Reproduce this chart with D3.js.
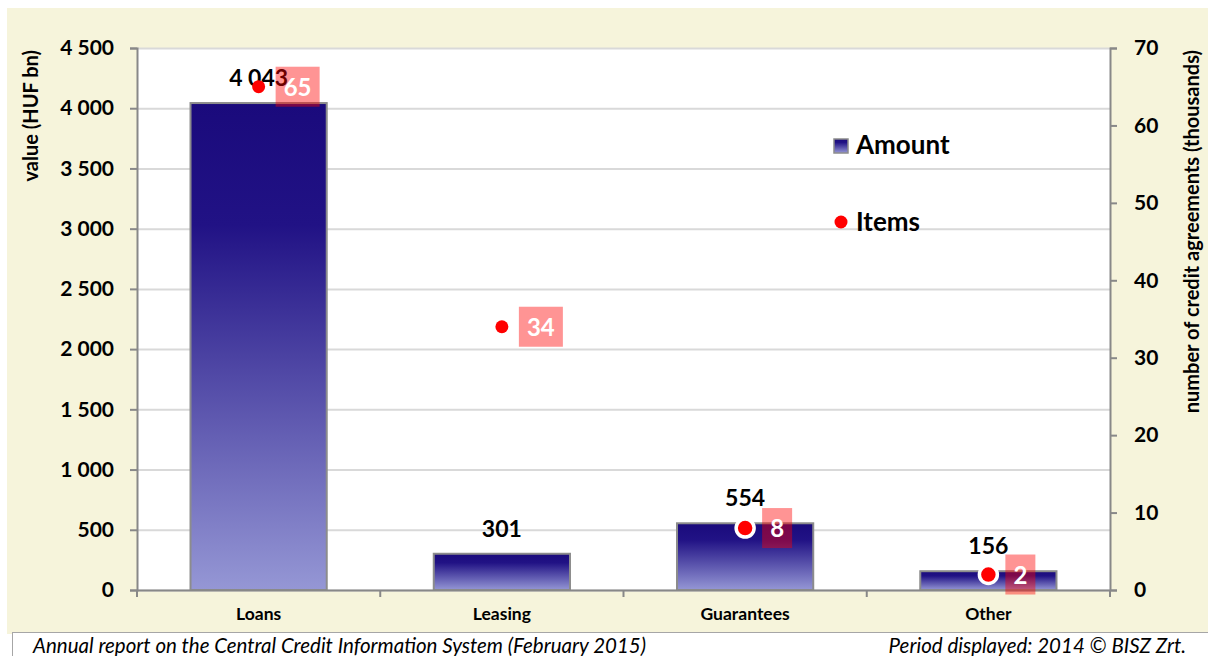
<!DOCTYPE html>
<html>
<head>
<meta charset="utf-8">
<script src="https://cdn.jsdelivr.net/npm/d3@7"></script>
<style>
  body { margin: 0; background: #fff; }
  svg text { font-family: Lato, "Open Sans", sans-serif; }
</style>
</head>
<body>
<div id="chart"></div>
<script>
// data
var categories = ['Loans', 'Leasing', 'Guarantees', 'Other'];
var amounts = [4043, 301, 554, 156];          // HUF bn
var amountLabels = ['4 043', '301', '554', '156'];
var items = [65, 34, 8, 2];                    // thousands
var leftTicks = [0, 500, 1000, 1500, 2000, 2500, 3000, 3500, 4000, 4500];
var rightTicks = [0, 10, 20, 30, 40, 50, 60, 70];

var width = 1208, height = 656;
var plot = { left: 137, right: 1110, top: 48, bottom: 590 };

var svg = d3.select('#chart').append('svg')
    .attr('width', width)
    .attr('height', height);

// beige chart background
svg.append('rect')
    .attr('x', 7).attr('y', 8)
    .attr('width', width - 7).attr('height', 626)
    .attr('fill', '#f6f4db');

// footer box
svg.append('rect')
    .attr('x', 12.5).attr('y', 632.5)
    .attr('width', width).attr('height', 40)
    .attr('fill', '#fff')
    .attr('stroke', '#a6a6a6');

// plot area
svg.append('rect')
    .attr('x', plot.left).attr('y', plot.top)
    .attr('width', plot.right - plot.left).attr('height', plot.bottom - plot.top)
    .attr('fill', '#fff');

var defs = svg.append('defs');
var grad = defs.append('linearGradient')
    .attr('id', 'barGrad')
    .attr('x1', 0).attr('y1', 0).attr('x2', 0).attr('y2', 1);
grad.append('stop').attr('offset', '0%').attr('stop-color', '#1a0a7c');
grad.append('stop').attr('offset', '25%').attr('stop-color', '#211285');
grad.append('stop').attr('offset', '100%').attr('stop-color', '#9597d5');

var x = d3.scaleBand()
    .domain(categories)
    .range([plot.left, plot.right])
    .paddingInner(0.44)
    .paddingOuter(0.22);

var band = d3.scaleBand()
    .domain(categories)
    .range([plot.left, plot.right]);

var y = d3.scaleLinear()
    .domain([0, 4500])
    .range([plot.bottom, plot.top]);

var y2 = d3.scaleLinear()
    .domain([0, 70])
    .range([plot.bottom, plot.top]);

// gridlines
svg.append('g')
    .attr('class', 'grid')
    .attr('transform', 'translate(' + plot.left + ',0)')
    .call(d3.axisLeft(y).tickValues(leftTicks).tickSize(-(plot.right - plot.left)).tickFormat(''))
    .call(function(g) {
        g.select('.domain').remove();
        g.selectAll('line').attr('stroke', '#d9d9d9').attr('stroke-width', 2);
    });

// left axis
svg.append('g')
    .attr('transform', 'translate(' + plot.left + ',0)')
    .call(d3.axisLeft(y).tickValues(leftTicks).tickSize(7).tickPadding(16)
        .tickFormat(function(d) { return d3.format(',')(d).replace(/,/g, ' '); }))
    .call(function(g) {
        g.select('.domain').attr('stroke', '#888').attr('stroke-width', 2);
        g.selectAll('line').attr('stroke', '#888').attr('stroke-width', 2);
        g.selectAll('text').attr('fill', '#000').style('font-size', '21px').style('font-weight', 'bold');
    });

// right axis
svg.append('g')
    .attr('transform', 'translate(' + plot.right + ',0)')
    .call(d3.axisRight(y2).tickValues(rightTicks).tickSize(7).tickPadding(17))
    .call(function(g) {
        g.select('.domain').attr('stroke', '#888').attr('stroke-width', 2);
        g.selectAll('line').attr('stroke', '#888').attr('stroke-width', 2);
        g.selectAll('text').attr('fill', '#000').style('font-size', '21px').style('font-weight', 'bold');
    });

// bars
svg.selectAll('rect.bar')
    .data(amounts)
    .enter()
    .append('rect')
    .attr('class', 'bar')
    .attr('x', function(d, i) { return x(categories[i]); })
    .attr('y', function(d) { return y(d); })
    .attr('width', x.bandwidth())
    .attr('height', function(d) { return plot.bottom - y(d); })
    .attr('fill', 'url(#barGrad)')
    .attr('stroke', '#8c8c8c')
    .attr('stroke-width', 2);

// bottom axis with ticks at category boundaries
var xAxis = svg.append('g')
    .attr('transform', 'translate(0,' + plot.bottom + ')')
    .call(d3.axisBottom(band).tickSize(0).tickPadding(18))
    .call(function(g) {
        g.select('.domain').attr('stroke', '#888').attr('stroke-width', 2);
        g.selectAll('text').attr('fill', '#000').style('font-size', '17.5px').style('font-weight', 'bold');
    });
xAxis.selectAll('line.sep')
    .data(categories.concat(['end']))
    .enter()
    .append('line')
    .attr('class', 'sep')
    .attr('x1', function(d, i) { return i < categories.length ? band(d) : plot.right; })
    .attr('x2', function(d, i) { return i < categories.length ? band(d) : plot.right; })
    .attr('y1', 0).attr('y2', 7)
    .attr('stroke', '#888')
    .attr('stroke-width', 2);

// bar value labels
svg.selectAll('text.val')
    .data(amounts)
    .enter()
    .append('text')
    .attr('class', 'val')
    .attr('x', function(d, i) { return band(categories[i]) + band.bandwidth() / 2; })
    .attr('y', function(d) { return y(d) - 17; })
    .attr('text-anchor', 'middle')
    .style('font-size', '23px')
    .style('font-weight', 'bold')
    .text(function(d, i) { return amountLabels[i]; });

// item dots
svg.selectAll('circle.item')
    .data(items)
    .enter()
    .append('circle')
    .attr('class', 'item')
    .attr('cx', function(d, i) { return band(categories[i]) + band.bandwidth() / 2; })
    .attr('cy', function(d) { return y2(d); })
    .attr('r', function(d, i) { return y(amounts[i]) < y2(d) ? 9 : 6.5; })
    .attr('fill', 'red')
    .attr('stroke', function(d, i) { return y(amounts[i]) < y2(d) ? '#fff' : 'none'; })
    .attr('stroke-width', 3.5);

// item labels in translucent red boxes
var lab = svg.selectAll('g.itemLab')
    .data(items)
    .enter()
    .append('g')
    .attr('class', 'itemLab')
    .attr('transform', function(d, i) {
        return 'translate(' + (band(categories[i]) + band.bandwidth() / 2 + 17) + ',' + y2(d) + ')';
    });
lab.append('rect')
    .attr('x', 0).attr('y', -20)
    .attr('width', function(d) { return String(d).length > 1 ? 44 : 30; })
    .attr('height', 40)
    .attr('fill', 'red')
    .attr('opacity', 0.42);
lab.append('text')
    .attr('x', function(d) { return String(d).length > 1 ? 22 : 15; })
    .attr('y', 9)
    .attr('text-anchor', 'middle')
    .attr('fill', '#fff')
    .style('font-size', '24px')
    .style('font-weight', 'bold')
    .text(function(d) { return d; });

// legend
var legend = svg.append('g').attr('transform', 'translate(833,0)');
legend.append('rect')
    .attr('x', 1).attr('y', 139)
    .attr('width', 14).attr('height', 14)
    .attr('fill', 'url(#barGrad)')
    .attr('stroke', '#8c8c8c')
    .attr('stroke-width', 1.5);
legend.append('text')
    .attr('x', 23).attr('y', 154)
    .style('font-size', '26px').style('font-weight', 'bold')
    .text('Amount');
legend.append('circle')
    .attr('cx', 8).attr('cy', 222)
    .attr('r', 6.5)
    .attr('fill', 'red');
legend.append('text')
    .attr('x', 23).attr('y', 231)
    .style('font-size', '26px').style('font-weight', 'bold')
    .text('Items');

// axis titles
svg.append('text')
    .attr('transform', 'translate(38,50) rotate(-90)')
    .attr('text-anchor', 'end')
    .style('font-size', '20px').style('font-weight', 'bold')
    .text('value (HUF bn)');
svg.append('text')
    .attr('transform', 'translate(1199,50) rotate(-90)')
    .attr('text-anchor', 'end')
    .style('font-size', '20px').style('font-weight', 'bold')
    .text('number of credit agreements (thousands)');

// footer texts
svg.append('text')
    .attr('x', 33).attr('y', 653)
    .style('font-size', '20.5px').style('font-style', 'italic')
    .text('Annual report on the Central Credit Information System (February 2015)');
svg.append('text')
    .attr('x', 1186).attr('y', 653)
    .attr('text-anchor', 'end')
    .style('font-size', '20.5px').style('font-style', 'italic')
    .text('Period displayed: 2014 © BISZ Zrt.');
</script>
</body>
</html>
